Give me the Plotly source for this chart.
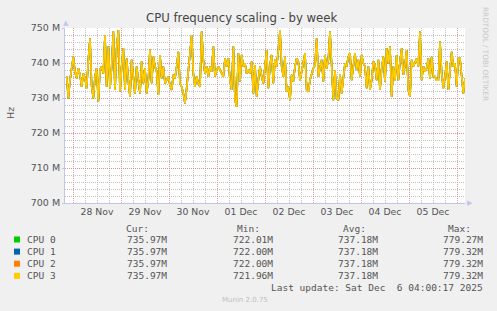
import pandas as pd
import plotly.graph_objects as go

# ---------------- data ----------------
title_text = "CPU frequency scaling - by week"
series_names = ["CPU 0", "CPU 1", "CPU 2", "CPU 3"]
series_colors = ["#00CC00", "#0066B3", "#FF8000", "#FFCC00"]
cur_vals = ["735.97M", "735.97M", "735.97M", "735.97M"]
min_vals = ["722.01M", "722.00M", "722.00M", "721.96M"]
avg_vals = ["737.18M", "737.18M", "737.18M", "737.18M"]
max_vals = ["779.27M", "779.32M", "779.32M", "779.32M"]

start_time = "2025-11-27 20:50"
step = "50min"
# frequency in MHz (all CPUs practically identical)
freq_mhz = [
    736.1, 729.9, 735.1, 739.0, 741.8, 737.5, 735.6, 738.5, 736.6, 733.2,
    737.0, 735.6, 732.8, 740.9, 747.0, 733.2, 729.9, 736.1, 738.5, 729.0,
    738.0, 739.0, 737.0, 748.0, 733.2, 744.7, 732.8, 739.0, 749.0, 732.3,
    744.2, 749.4, 731.8, 739.0, 744.2, 732.3, 741.3, 735.1, 730.4, 740.9,
    735.1, 731.3, 739.0, 735.1, 731.3, 740.4, 734.2, 738.5, 731.3, 735.1,
    743.9, 734.2, 741.8, 739.0, 737.5, 730.9, 742.3, 735.6, 739.0, 734.2,
    735.1, 736.1, 733.7, 732.3, 736.6, 735.6, 739.0, 743.2, 734.2, 733.2,
    731.3, 728.5, 732.8, 739.0, 742.8, 748.0, 737.0, 733.2, 736.1, 734.2,
    733.2, 749.0, 740.9, 737.0, 739.0, 736.1, 739.0, 737.5, 744.7, 736.1,
    738.0, 739.0, 738.0, 737.0, 736.1, 741.3, 739.0, 741.3, 735.1, 732.3,
    744.7, 729.4, 727.5, 742.8, 734.7, 742.3, 739.0, 739.9, 737.0, 738.0,
    737.0, 740.4, 731.3, 739.4, 730.4, 735.1, 739.0, 736.1, 734.2, 739.0,
    743.7, 732.8, 739.4, 742.3, 734.2, 740.9, 739.0, 743.7, 749.2, 739.0,
    736.1, 741.8, 731.8, 733.2, 729.4, 736.6, 734.7, 739.0, 741.3, 740.4,
    735.1, 737.5, 739.9, 742.8, 732.3, 731.8, 735.1, 737.0, 738.5, 739.4,
    747.0, 736.1, 738.5, 740.9, 734.7, 742.3, 738.5, 740.9, 749.0, 739.0,
    729.4, 738.0, 729.9, 729.4, 736.6, 731.3, 736.1, 739.9, 739.0, 741.8,
    742.8, 735.1, 739.0, 742.8, 738.0, 740.9, 736.1, 742.3, 739.9, 739.0,
    732.8, 739.0, 732.3, 735.1, 740.4, 739.4, 735.1, 740.9, 732.3, 738.5,
    741.8, 734.7, 744.2, 739.9, 744.7, 730.4, 739.0, 735.1, 742.3, 735.1,
    740.4, 744.2, 736.6, 739.4, 743.7, 732.3, 730.4, 740.9, 739.0, 740.4,
    741.3, 739.0, 749.0, 735.1, 739.0, 737.5, 738.5, 741.3, 735.6, 741.8,
    736.1, 736.1, 735.1, 735.1, 746.1, 737.0, 732.8, 736.1, 740.4, 732.3,
    738.0, 743.2, 739.0, 739.9, 733.2, 741.3, 741.3, 735.1, 731.3, 735.6,
]
x_range = ["2025-11-27 20:00", "2025-12-06 04:00"]
y_tick_vals = [700, 710, 720, 730, 740, 750]
y_tick_text = ["700 M", "710 M", "720 M", "730 M", "740 M", "750 M"]
last_update = "Last update: Sat Dec \u00a06 04:00:17 2025"

times = pd.date_range(start_time, periods=len(freq_mhz), freq=step)

# ---------------- layout helpers ----------------
W, H = 497, 311
L, R, T, B = 65, 465, 28, 203


def px(x):
    return (x - L) / (R - L)


def py(y):
    return (B - y) / (B - T)


fig = go.Figure()
for name, col in zip(series_names, series_colors):
    fig.add_trace(go.Scatter(x=times, y=freq_mhz, mode="lines", name=name,
                             line=dict(color=col, width=1.6), showlegend=False))

red = "rgba(225,140,140,0.9)"
gray = "rgba(190,190,190,0.9)"
axis_col = "#c4c4f0"
txt = "#555555"
sans = "DejaVu Sans"
mono = "DejaVu Sans Mono"

fig.update_layout(
    width=W, height=H,
    margin=dict(l=L, r=W - R, t=T, b=H - B),
    paper_bgcolor="#F0F0F0",
    plot_bgcolor="#FFFFFF",
    showlegend=False,
    font=dict(family=sans, size=9.3, color=txt),
)
fig.update_xaxes(
    type="date", range=x_range, tick0="2025-11-28", dtick=86400000,
    ticklabelmode="period", tickformat="%d %b",
    showgrid=True, gridcolor=red, griddash="1px,1px", gridwidth=1,
    ticks="", showline=True, linecolor=axis_col, linewidth=1,
    minor=dict(dtick=6 * 3600000, showgrid=True, gridcolor=gray,
               griddash="1px,1px", gridwidth=1),
    tickfont=dict(family=sans, size=9.3, color=txt),
    zeroline=False, fixedrange=True,
)
fig.update_yaxes(
    range=[700, 750], tickvals=y_tick_vals, ticktext=y_tick_text,
    showgrid=True, gridcolor=red, griddash="1px,1px", gridwidth=1,
    ticks="outside", ticklen=2, tickcolor=axis_col,
    showline=True, linecolor=axis_col, linewidth=1,
    minor=dict(dtick=2, showgrid=True, gridcolor=gray, griddash="1px,1px",
               gridwidth=1),
    tickfont=dict(family=sans, size=9.5, color=txt),
    zeroline=False, fixedrange=True,
)

ann = []


def add_text(x, y, text, anchor="left", size=9.5, color=txt, family=mono,
             angle=0):
    ann.append(dict(x=px(x), y=py(y), xref="paper", yref="paper", text=text,
                    showarrow=False, xanchor=anchor, yanchor="middle",
                    font=dict(family=family, size=size, color=color),
                    borderpad=0, borderwidth=0, textangle=angle))


# title, axis label, side text
add_text(241, 18, title_text, anchor="center", size=11.7, color="#444444",
         family=sans)
add_text(10, 113, "Hz", anchor="center", size=9.5, family=sans, angle=-90)
add_text(486, 54, "RRDTOOL / TOBI OETIKER", anchor="center", size=7.3,
         color="#c8c8c8", family=sans, angle=90)
# axis arrows
add_text(65.5, 23, "\u25B2", anchor="center", size=7, color=axis_col,
         family=sans)
add_text(469.5, 203, "\u25B6", anchor="center", size=7, color=axis_col,
         family=sans)

# legend table
add_text(148.5, 228, "Cur:", anchor="right")
add_text(260, 228, "Min:", anchor="right")
add_text(365.5, 228, "Avg:", anchor="right")
add_text(470.5, 228, "Max:", anchor="right")
row_y = [239.5, 251.6, 263.7, 275.8]
shapes = []
for i, name in enumerate(series_names):
    y = row_y[i]
    shapes.append(dict(type="rect", xref="paper", yref="paper",
                       x0=px(14), x1=px(20), y0=py(y + 3), y1=py(y - 3),
                       fillcolor=series_colors[i], line=dict(width=0)))
    add_text(26.5, y, name, anchor="left")
    add_text(167, y, cur_vals[i], anchor="right")
    add_text(273, y, min_vals[i], anchor="right")
    add_text(378, y, avg_vals[i], anchor="right")
    add_text(483, y, max_vals[i], anchor="right")
add_text(483, 287.5, last_update, anchor="right")
add_text(245, 300, "Munin 2.0.75", anchor="center", size=7, color="#c0c0c0",
         family=sans)

fig.update_layout(annotations=ann, shapes=shapes)
fig.write_html("out.html")
